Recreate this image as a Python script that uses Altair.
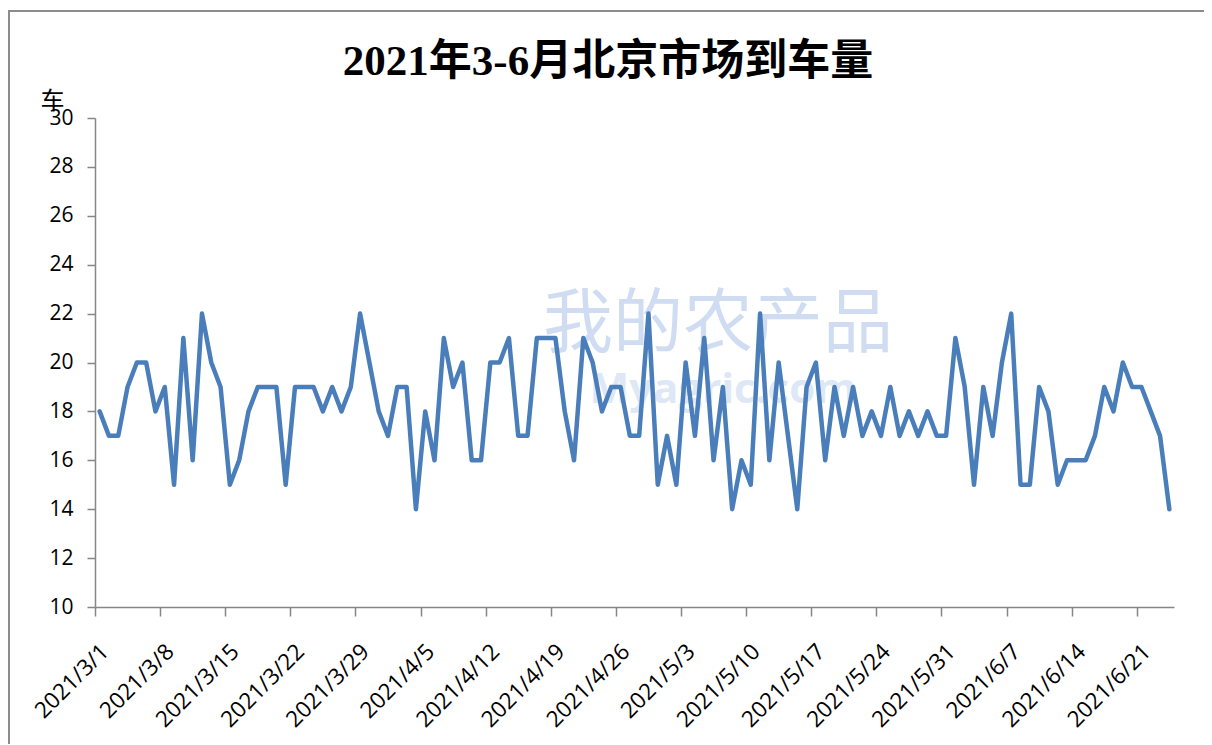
import altair as alt
import pandas as pd

# Daily arrivals (车), 2021-03-01 .. 2021-06-24
values = [
    18, 17, 17, 19, 20, 20, 18, 19, 15, 21, 16, 22, 20, 19, 15, 16, 18, 19, 19, 19,
    15, 19, 19, 19, 18, 19, 18, 19, 22, 20, 18, 17, 19, 19, 14, 18, 16, 21, 19, 20,
    16, 16, 20, 20, 21, 17, 17, 21, 21, 21, 18, 16, 21, 20, 18, 19, 19, 17, 17, 22,
    15, 17, 15, 20, 17, 21, 16, 19, 14, 16, 15, 22, 16, 20, 17, 14, 19, 20, 16, 19,
    17, 19, 17, 18, 17, 19, 17, 18, 17, 18, 17, 17, 21, 19, 15, 19, 17, 20, 22, 15,
    15, 19, 18, 15, 16, 16, 16, 17, 19, 18, 20, 19, 19, 18, 17, 14,
]
start_date = "2021-03-01"
tick_dates = ["2021-03-01", "2021-03-08", "2021-03-15", "2021-03-22", "2021-03-29",
              "2021-04-05", "2021-04-12", "2021-04-19", "2021-04-26", "2021-05-03",
              "2021-05-10", "2021-05-17", "2021-05-24", "2021-05-31", "2021-06-07",
              "2021-06-14", "2021-06-21"]
y_ticks = [10, 12, 14, 16, 18, 20, 22, 24, 26, 28, 30]
title_text = "2021年3-6月北京市场到车量"
y_unit = "车"
watermark_cn = "我的农产品"
watermark_en = "Myagric.com"

days = pd.date_range(start_date, periods=len(values), freq="D")
df = pd.DataFrame({
    "date": [(d + pd.Timedelta(hours=12)).strftime("%Y-%m-%dT%H:%M:%S") for d in days],
    "value": values,
})

def dt(s):
    y, m, d = (int(p) for p in s.split("-"))
    return alt.DateTime(year=y, month=m, date=d)

end_day = days[-1] + pd.Timedelta(days=1)
x_domain = [dt(start_date), dt(end_day.strftime("%Y-%m-%d"))]

W, H = 1079, 489
axis_gray = "#868686"

line = alt.Chart(df).mark_line(
    color="#4A7EBB", strokeWidth=4.5, strokeJoin="round", strokeCap="round"
).encode(
    x=alt.X("date:T", scale=alt.Scale(domain=x_domain, nice=False),
            axis=alt.Axis(values=[dt(t) for t in tick_dates], format="%Y/%-m/%-d",
                          formatType="time", labelAngle=-45, labelAlign="right",
                          labelBaseline="top", labelPadding=24, labelOffset=2,
                          labelOverlap=False, labelFontSize=22.5,
                          tickSize=9, title=None)),
    y=alt.Y("value:Q", scale=alt.Scale(domain=[10, 30], nice=False, zero=False),
            axis=alt.Axis(values=y_ticks, tickSize=8, labelPadding=14,
                          labelFontSize=21,
                          title=y_unit, titleAngle=0, titleX=-43, titleY=-17,
                          titleAlign="center", titleBaseline="middle",
                          titleFontSize=24, titleFontWeight="normal",
                          titleColor="#000000")),
)

wm_cn = alt.Chart(pd.DataFrame({"t": [watermark_cn]})).mark_text(
    font="Noto Sans CJK SC", fontSize=70, color="#CFDCF2", align="center",
    baseline="middle"
).encode(text="t:N", x=alt.value(623), y=alt.value(208))

wm_en = alt.Chart(pd.DataFrame({"t": [watermark_en]})).mark_text(
    font="Open Sans", fontSize=42, fontWeight="bold", color="#DDE7F5",
    align="center", baseline="middle"
).encode(text="t:N", x=alt.value(628), y=alt.value(272))

title = alt.Chart(pd.DataFrame({"t": [title_text]})).mark_text(
    font="'Liberation Serif', 'Noto Sans CJK SC'", fontSize=43, fontWeight="bold",
    color="#000000", align="center", baseline="middle"
).encode(text="t:N", x=alt.value(513), y=alt.value(-56))

border = alt.Chart(pd.DataFrame({"a": [0]})).mark_rect(
    fill=None, stroke="#8C8C8C", strokeWidth=2
).encode(x=alt.value(-86), x2=alt.value(1112), y=alt.value(-107), y2=alt.value(700))

chart = alt.layer(border, wm_cn, wm_en, title, line).properties(
    width=W, height=H,
    autosize=alt.AutoSizeParams(type="none"),
    padding={"left": 87, "top": 110, "right": 30, "bottom": 137},
).configure_view(stroke=None).configure_axis(
    domainColor=axis_gray, tickColor=axis_gray, domainWidth=1.5, tickWidth=1.5,
    labelFont="Open Sans", labelColor="#000000", grid=False,
    titleFont="Noto Sans CJK SC",
)

chart.save("out.html", embed_options={"renderer": "svg", "actions": False})
